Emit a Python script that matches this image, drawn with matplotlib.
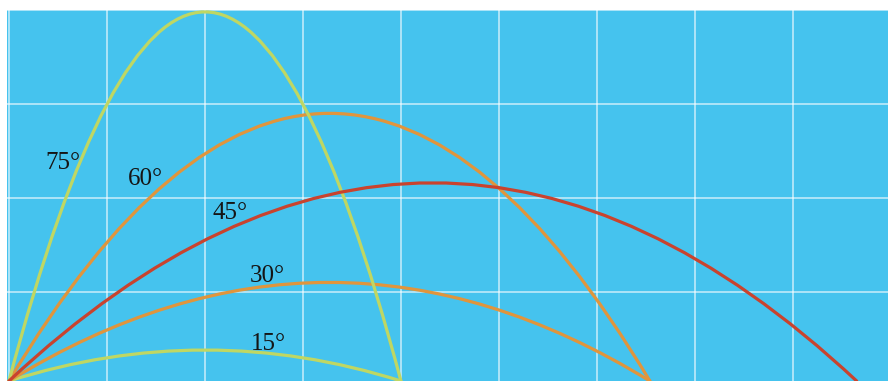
import matplotlib as mpl
mpl.use('Agg')
import matplotlib.pyplot as plt
from matplotlib.path import Path
from matplotlib.patches import PathPatch

# launch angles, landing distance and apex height (grid units)
angles = [15, 30, 45, 60, 75]
ranges = [4.0, 6.54, 8.65, 6.54, 4.0]
apex_y = [0.38, 1.10, 2.16, 2.90, 3.98]
colors = ['#bfd763', '#e0953c', '#c9432e', '#e0953c', '#bfd763']

# label anchors (left edge, vertical centre)
label_x = [2.47, 2.46, 2.08, 1.21, 0.37]
label_y = [0.44, 1.17, 1.84, 2.20, 2.37]

launch_y = 0.05
bg_color = '#45c3ee'

fig = plt.figure(figsize=(8.88, 3.81), dpi=100)
ax = fig.add_axes([7 / 888, 0, 881 / 888, 371 / 381])
ax.set_facecolor(bg_color)
ax.set_xlim(-0.02, 8.97)
ax.set_ylim(launch_y, 4.0)

for x in range(0, 9):
    ax.axvline(x, color='white', lw=1.3, alpha=0.6, zorder=1)
for y in range(1, 5):
    ax.axhline(y, color='white', lw=1.3, alpha=0.6, zorder=1)

# each trajectory is a parabola -> one quadratic bezier segment
for ang, rng, top, c in zip(angles, ranges, apex_y, colors):
    verts = [(0, launch_y), (rng / 2, 2 * top - launch_y), (rng, launch_y)]
    path = Path(verts, [Path.MOVETO, Path.CURVE3, Path.CURVE3])
    ax.add_patch(PathPatch(path, fill=False, edgecolor=c, lw=2.3,
                           zorder=3 if ang == 45 else 2, capstyle='round'))

for ang, lx, ly in zip(angles, label_x, label_y):
    ax.text(lx, ly, f'{ang}\u00b0', ha='left', va='center',
            fontsize=18, family='Liberation Serif', color='#151515', zorder=4)

for s in ax.spines.values():
    s.set_visible(False)
ax.set_xticks([])
ax.set_yticks([])

fig.savefig('out.png', dpi=100, facecolor='white')
